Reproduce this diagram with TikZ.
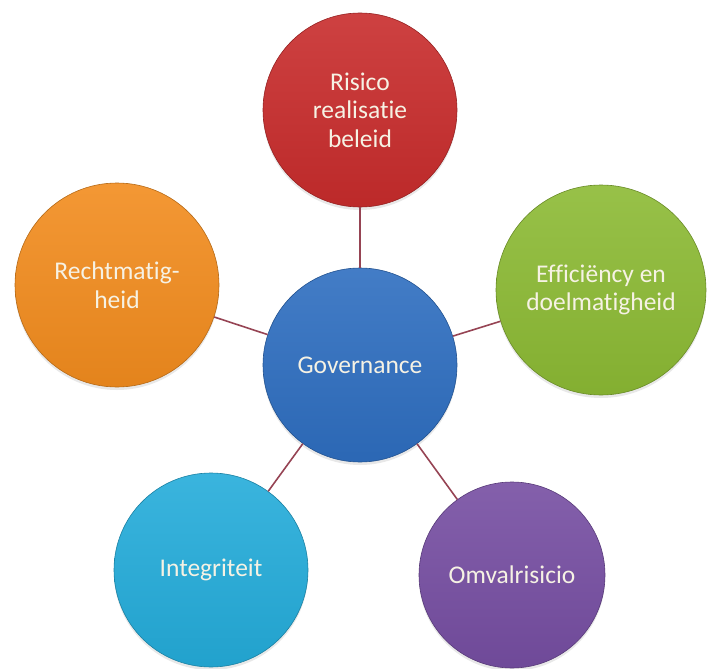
\documentclass[tikz,border=0pt]{standalone}
\usepackage{fontspec}
\setmainfont{Carlito}[Ligatures=CommonOff]
\usetikzlibrary{shadows}
\definecolor{RisicoClr}{RGB}{200,44,44}
\definecolor{GovClr}{RGB}{46,110,192}
\definecolor{RechtClr}{RGB}{242,140,30}
\definecolor{EffClr}{RGB}{140,186,52}
\definecolor{IntegrClr}{RGB}{36,172,218}
\definecolor{OmvalClr}{RGB}{118,78,162}
\definecolor{SpaakClr}{RGB}{150,68,84}
\definecolor{TekstClr}{RGB}{246,242,228}

\begin{document}
\begin{tikzpicture}[x=1pt,y=-1pt,
  bol/.style={circle,inner sep=0pt,align=center,text=TekstClr,
    font=\fontsize{25.5}{28.5}\selectfont,
    draw=#1!75!black,line width=0.6pt,
    top color=#1!90!white,bottom color=#1!94!black,
    drop shadow={opacity=0.18,shadow xshift=0pt,shadow yshift=-3pt}},
  spaak/.style={draw=SpaakClr,line width=1.6pt}]

\useasboundingbox (0,0) rectangle (710,669);

\node[bol=GovClr,minimum size=194] (gov) at (360,365) {Governance};

\node[bol=RisicoClr,minimum size=194] (risico) at (360,110) {Risico\\realisatie\\beleid};
\node[bol=RechtClr,minimum size=204] (recht) at (117,285) {Rechtmatig-\\heid};
\node[bol=EffClr,minimum size=210] (eff) at (601,290) {Efficiëncy en\\doelmatigheid};
\node[bol=IntegrClr,minimum size=194] (integr) at (211,570) {Integriteit};
\node[bol=OmvalClr,minimum size=186] (omval) at (512,575) {Omvalrisicio};

\draw[spaak] (gov) -- (risico);
\draw[spaak] (gov) -- (recht);
\draw[spaak] (gov) -- (eff);
\draw[spaak] (gov) -- (integr);
\draw[spaak] (gov) -- (omval);

\end{tikzpicture}
\end{document}
